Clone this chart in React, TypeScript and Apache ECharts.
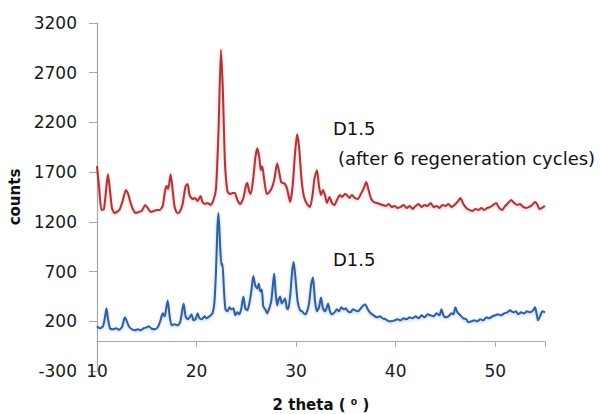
import React, { useEffect, useRef } from "react";
import * as echarts from "echarts";

const xTicks = [10, 20, 30, 40, 50];
const yTicks = [-300, 200, 700, 1200, 1700, 2200, 2700, 3200];

// D1.5 after 6 regeneration cycles (2θ, counts)
const redTheta = [10.0,10.2,10.45,10.7,10.95,11.1,11.3,11.5,11.75,12.0,12.3,12.6,12.9,13.1,13.35,13.6,13.9,14.2,14.5,14.85,15.1,15.4,15.7,16.0,16.3,16.6,16.85,17.0,17.15,17.4,17.6,17.8,18.05,18.3,18.6,18.9,19.1,19.3,19.6,19.85,20.1,20.4,20.6,20.85,21.1,21.4,21.7,21.95,22.2,22.45,22.65,22.85,23.1,23.35,23.6,23.85,24.1,24.4,24.7,24.95,25.1,25.3,25.45,25.7,25.9,26.1,26.3,26.45,26.6,26.8,27.05,27.3,27.55,27.8,28.1,28.3,28.5,28.7,28.9,29.1,29.4,29.65,29.9,30.1,30.3,30.55,30.8,31.1,31.4,31.65,31.85,32.1,32.3,32.5,32.7,32.9,33.1,33.35,33.6,33.85,34.1,34.4,34.6,34.9,35.1,35.35,35.6,35.9,36.2,36.5,36.8,37.05,37.3,37.55,37.8,38.1,38.4,38.7,39.0,39.3,39.6,39.9,40.2,40.5,40.8,41.1,41.4,41.7,42.0,42.3,42.6,42.9,43.2,43.5,43.8,44.1,44.4,44.7,45.0,45.3,45.6,45.9,46.2,46.5,46.8,47.1,47.4,47.7,48.0,48.3,48.6,48.9,49.2,49.5,49.8,50.1,50.4,50.7,51.0,51.3,51.6,51.9,52.2,52.5,52.8,53.1,53.4,53.7,54.0,54.2,54.45,54.7,55.0];
const redCounts = [1760,1560,1320,1330,1560,1680,1520,1340,1290,1300,1330,1420,1520,1490,1400,1330,1290,1300,1310,1370,1340,1300,1310,1320,1320,1360,1520,1560,1530,1680,1520,1350,1290,1300,1380,1560,1580,1470,1430,1440,1410,1460,1400,1380,1390,1370,1420,1530,2100,2930,2500,1800,1510,1480,1490,1490,1420,1380,1440,1560,1590,1500,1480,1640,1840,1940,1850,1720,1760,1620,1480,1500,1540,1620,1790,1700,1600,1590,1580,1530,1400,1560,1900,2080,1950,1620,1450,1380,1350,1470,1640,1720,1560,1470,1520,1470,1390,1450,1390,1370,1420,1470,1450,1480,1470,1440,1470,1440,1430,1480,1540,1600,1510,1430,1400,1390,1380,1370,1360,1380,1350,1360,1340,1350,1370,1340,1360,1330,1360,1380,1350,1370,1360,1390,1350,1360,1340,1370,1360,1380,1350,1370,1400,1440,1380,1340,1320,1310,1330,1320,1340,1320,1340,1350,1370,1390,1340,1320,1360,1390,1420,1390,1370,1380,1350,1340,1350,1370,1400,1380,1330,1340,1360];

// D1.5 (2θ, counts)
const blueTheta = [10.0,10.3,10.6,10.8,10.95,11.1,11.3,11.6,11.9,12.2,12.5,12.8,13.0,13.2,13.5,13.8,14.1,14.4,14.7,15.0,15.2,15.5,15.8,16.1,16.35,16.6,16.8,16.95,17.1,17.3,17.5,17.8,18.1,18.35,18.55,18.7,18.9,19.1,19.3,19.5,19.7,19.9,20.1,20.3,20.5,20.8,21.0,21.3,21.6,21.8,21.95,22.1,22.2,22.35,22.5,22.6,22.75,22.9,23.1,23.3,23.5,23.7,23.9,24.1,24.3,24.5,24.7,24.9,25.1,25.3,25.5,25.7,25.9,26.1,26.25,26.4,26.55,26.7,26.9,27.1,27.3,27.5,27.7,27.8,27.95,28.1,28.25,28.4,28.55,28.7,28.9,29.05,29.2,29.4,29.6,29.75,29.95,30.15,30.4,30.6,30.9,31.1,31.3,31.5,31.7,31.9,32.1,32.3,32.5,32.7,32.9,33.05,33.2,33.4,33.6,33.85,34.1,34.3,34.55,34.8,35.0,35.2,35.45,35.7,35.95,36.2,36.5,36.75,36.95,37.2,37.5,37.8,38.1,38.4,38.7,39.0,39.3,39.6,39.9,40.2,40.5,40.8,41.1,41.4,41.7,42.0,42.3,42.6,42.9,43.2,43.5,43.8,44.1,44.4,44.6,44.8,45.0,45.3,45.6,45.8,46.0,46.2,46.5,46.8,47.1,47.3,47.6,47.9,48.2,48.5,48.8,49.1,49.4,49.7,50.0,50.3,50.6,50.9,51.2,51.5,51.8,52.1,52.3,52.6,52.9,53.2,53.5,53.8,54.0,54.15,54.3,54.5,54.75,55.0];
const blueCounts = [150,130,150,240,330,230,130,120,130,115,140,240,200,150,120,110,120,110,130,140,150,125,120,140,200,280,250,330,410,250,160,170,160,190,300,380,250,220,240,270,210,220,280,230,220,250,230,250,280,400,700,1150,1290,1000,760,780,520,320,300,340,320,330,260,290,270,330,450,330,310,380,500,655,560,530,580,500,520,350,320,280,330,400,600,680,480,360,420,450,380,400,430,340,320,450,700,800,620,400,310,300,270,300,380,560,640,400,300,340,440,330,300,330,380,300,270,290,320,300,340,320,330,300,290,320,310,300,330,360,370,320,280,260,240,250,230,220,200,200,210,220,210,230,220,240,230,250,230,260,240,270,260,250,280,260,320,260,240,250,280,270,340,290,260,230,220,190,200,210,200,220,210,240,230,250,260,270,260,280,290,310,290,300,270,290,280,300,290,310,340,280,210,250,300,290];

const FONT = "'DejaVu Sans', sans-serif";

export default function App() {
  const ref = useRef<HTMLDivElement>(null);
  useEffect(() => {
    if (!ref.current) return;
    const chart = echarts.init(ref.current, null, { renderer: "svg" });
    const red = redTheta.map((t, i) => [t, redCounts[i]]);
    const blue = blueTheta.map((t, i) => [t, blueCounts[i]]);
    chart.setOption({
      animation: false,
      backgroundColor: "#ffffff",
      grid: { left: 97, right: 55, top: 23, bottom: 43, containLabel: false, outerBoundsMode: "none" },
      xAxis: [
        {
          type: "value",
          min: 10,
          max: 55,
          interval: 10,
          position: "bottom",
          axisLine: { show: true, onZero: true, lineStyle: { color: "#a8a8a8", width: 1.2 } },
          axisTick: { show: true, length: 6, lineStyle: { color: "#a8a8a8" } },
          axisLabel: { show: false },
          splitLine: { show: false },
        },
        {
          type: "value",
          min: 10,
          max: 55,
          interval: 10,
          position: "bottom",
          axisLine: { show: false, onZero: false },
          axisTick: { show: false },
          splitLine: { show: false },
          axisLabel: {
            show: true,
            margin: 0,
            verticalAlign: "middle",
            color: "#1a1a1a",
            fontSize: 17,
            fontFamily: FONT,
            customValues: xTicks,
            formatter: (v: number) => String(v),
          },
          name: "2 theta ( \u2070 )",
          nameLocation: "middle",
          nameGap: 26,
          nameTextStyle: { color: "#111", fontSize: 15, fontWeight: "bold", fontFamily: FONT },
        },
      ],
      yAxis: {
        type: "value",
        min: -300,
        max: 3200,
        interval: 500,
        axisLine: { show: true, lineStyle: { color: "#a8a8a8", width: 1.2 } },
        axisTick: { show: true, length: 8, lineStyle: { color: "#a8a8a8" } },
        splitLine: { show: false },
        axisLabel: {
          margin: 20,
          color: "#1a1a1a",
          fontSize: 17,
          fontFamily: FONT,
          customValues: yTicks,
          formatter: (v: number) => String(v),
        },
        name: "counts",
        nameLocation: "middle",
        nameRotate: 90,
        nameGap: 73,
        nameTextStyle: { color: "#111", fontSize: 15, fontWeight: "bold", fontFamily: FONT },
      },
      series: [
        {
          type: "line",
          data: red,
          xAxisIndex: 0,
          showSymbol: false,
          smooth: 0.2,
          lineStyle: {
            color: "#ad3537",
            width: 2,
            shadowColor: "rgba(176,57,59,0.35)",
            shadowBlur: 3,
            shadowOffsetY: 1,
          },
        },
        {
          type: "line",
          data: blue,
          xAxisIndex: 0,
          showSymbol: false,
          smooth: 0.2,
          lineStyle: {
            color: "#2d60a3",
            width: 2,
            shadowColor: "rgba(47,99,166,0.35)",
            shadowBlur: 3,
            shadowOffsetY: 1,
          },
        },
      ],
      graphic: [
        { type: "text", left: 333, top: 119, style: { text: "D1.5", fontSize: 18, fontFamily: FONT, fill: "#111" } },
        {
          type: "text",
          left: 338,
          top: 149,
          style: { text: "(after 6 regeneration cycles)", fontSize: 18, fontFamily: FONT, fill: "#111" },
        },
        { type: "text", left: 333, top: 250, style: { text: "D1.5", fontSize: 18, fontFamily: FONT, fill: "#111" } },
      ],
    });
    return () => chart.dispose();
  }, []);
  return <div ref={ref} style={{ width: 600, height: 414, position: "absolute", left: 0, top: 0 }} />;
}
